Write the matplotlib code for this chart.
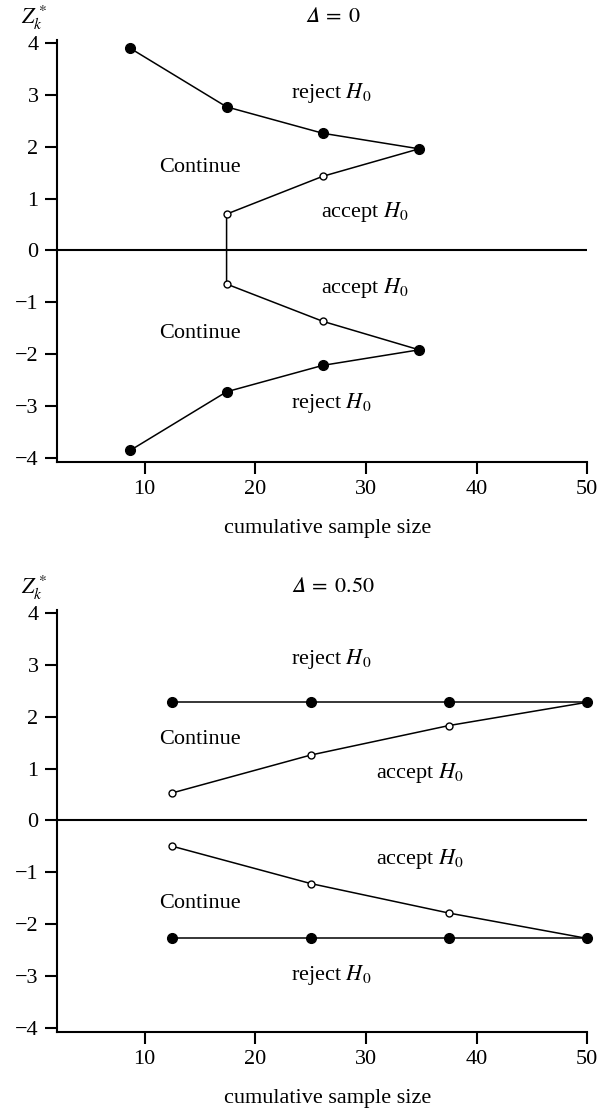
import numpy as np
import matplotlib
matplotlib.use('Agg')
import matplotlib.pyplot as plt

plt.rcParams['font.family'] = ['Liberation Serif', 'DejaVu Serif']
plt.rcParams['mathtext.fontset'] = 'stix'
plt.rcParams['font.size'] = 16

# stage-wise cumulative sample sizes and boundaries, delta = 0
n_top = [8.7, 17.4, 26.1, 34.8]
reject_up_top = [3.90, 2.77, 2.26, 1.96]
reject_lo_top = [-3.86, -2.73, -2.22, -1.92]
accept_up_top = [0.70, 1.43, 1.96]
accept_lo_top = [-0.65, -1.37, -1.92]

# delta = 0.50
n_bot = [12.5, 25.0, 37.5, 50.0]
reject_up_bot = [2.28, 2.28, 2.28, 2.28]
reject_lo_bot = [-2.28, -2.28, -2.28, -2.28]
accept_up_bot = [0.53, 1.26, 1.83, 2.28]
accept_lo_bot = [-0.50, -1.22, -1.79, -2.28]

titles = ['$\U0001D6E5\\;=\\;0$', '$\U0001D6E5\\;=\\;0.50$']
xticks = [10, 20, 30, 40, 50]
yticks = [-4, -3, -2, -1, 0, 1, 2, 3, 4]

fig = plt.figure(figsize=(5.98, 11.15), dpi=100)
ax1 = fig.add_axes([0.0958, 0.5859, 0.8863, 0.3782])
ax2 = fig.add_axes([0.0958, 0.0747, 0.8863, 0.3782])

filled = dict(color='k', lw=1.1, marker='o', ms=7, mfc='k', mec='k', clip_on=False, zorder=3)
opened = dict(ls='none', marker='o', ms=5, mfc='white', mec='k', mew=1.0, clip_on=False, zorder=4)


def style_axes(ax, title):
    ax.set_xlim(2.1, 50)
    ax.set_ylim(-4.08, 4.06)
    ax.set_xticks(xticks)
    ax.set_yticks(yticks)
    ax.spines['top'].set_visible(False)
    ax.spines['right'].set_visible(False)
    for s in ['left', 'bottom']:
        ax.spines[s].set_linewidth(1.5)
    ax.tick_params(direction='out', length=8.5, width=1.5, pad=5, labelsize=16)
    ax.axhline(0, color='k', lw=1.5, zorder=1)
    ax.set_xlabel('cumulative sample size', fontsize=16)
    ax.xaxis.set_label_coords(0.51, -0.135)
    ax.text(0.52, 1.053, title, transform=ax.transAxes, ha='center', va='center', fontsize=16)
    ax.text(-0.068, 1.052, r'$Z_k^*$', transform=ax.transAxes, ha='left', va='center', fontsize=16)


# top panel
style_axes(ax1, titles[0])
ax1.plot(n_top, reject_up_top, **filled)
ax1.plot(n_top, reject_lo_top, **filled)
acc_x = n_top[1:][::-1] + n_top[1:]
acc_y = accept_up_top[::-1] + accept_lo_top
ax1.plot(acc_x, acc_y, color='k', lw=1.1, zorder=2)
ax1.plot(n_top[1:3], accept_up_top[:2], **opened)
ax1.plot(n_top[1:3], accept_lo_top[:2], **opened)

ax1.text(26.9, 3.04, r'reject $H_0$', ha='center', va='center')
ax1.text(29.9, 0.75, r'accept $H_0$', ha='center', va='center')
ax1.text(15.0, 1.59, 'Continue', ha='center', va='center')
ax1.text(15.0, -1.60, 'Continue', ha='center', va='center')
ax1.text(29.9, -0.73, r'accept $H_0$', ha='center', va='center')
ax1.text(26.9, -2.95, r'reject $H_0$', ha='center', va='center')

# bottom panel
style_axes(ax2, titles[1])
ax2.plot(n_bot, reject_up_bot, **filled)
ax2.plot(n_bot, reject_lo_bot, **filled)
ax2.plot(n_bot, accept_up_bot, color='k', lw=1.1, zorder=2)
ax2.plot(n_bot, accept_lo_bot, color='k', lw=1.1, zorder=2)
ax2.plot(n_bot[:3], accept_up_bot[:3], **opened)
ax2.plot(n_bot[:3], accept_lo_bot[:3], **opened)

ax2.text(26.9, 3.11, r'reject $H_0$', ha='center', va='center')
ax2.text(34.9, 0.92, r'accept $H_0$', ha='center', va='center')
ax2.text(15.0, 1.56, 'Continue', ha='center', va='center')
ax2.text(15.0, -1.60, 'Continue', ha='center', va='center')
ax2.text(34.9, -0.74, r'accept $H_0$', ha='center', va='center')
ax2.text(26.9, -2.98, r'reject $H_0$', ha='center', va='center')

fig.savefig('out.png', dpi=100)
